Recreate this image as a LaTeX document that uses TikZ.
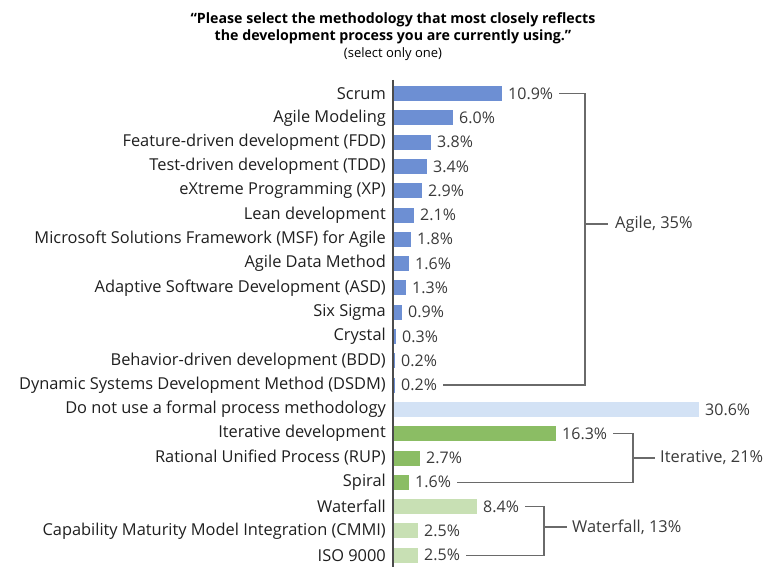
\documentclass[tikz,border=0pt]{standalone}
\usepackage{fontspec}
\setmainfont{Open Sans}
\usetikzlibrary{positioning,calc}
\definecolor{barblue}{HTML}{6D8FD3}
\definecolor{barnone}{HTML}{D3E2F5}
\definecolor{bargreen}{HTML}{8BBD64}
\definecolor{barlight}{HTML}{C8E0B4}
\definecolor{pctgray}{HTML}{3A3A3A}
\definecolor{brkgray}{HTML}{6A6A6A}

\begin{document}
\begin{tikzpicture}[x=1pt,y=-1pt,
      lab/.style={anchor=east,inner sep=0pt,text=black!88,font=\fontsize{16.4}{18}\selectfont},
      pct/.style={anchor=west,inner sep=0pt,text=pctgray,font=\fontsize{16}{18}\selectfont},
      grp/.style={anchor=west,inner sep=0pt,text=pctgray,font=\fontsize{16.4}{18}\selectfont},
      brk/.style={draw=brkgray,line width=1.3pt}]
    \useasboundingbox (0,0) rectangle (765,567);
    \node[align=center,inner sep=0pt,font=\bfseries\fontsize{14.2}{17}\selectfont] (title) at (393,28)
      {“Please select the methodology that most closely reflects\\the development process you are currently using.”};
    \node[inner sep=0pt,font=\fontsize{13}{15}\selectfont,below=4pt of title] (sub) {(select only one)};
    % bars, one row per answer
    \foreach \name/\val/\col [count=\i] in {
        Scrum/10.9/barblue,
        Agile Modeling/6.0/barblue,
        Feature-driven development (FDD)/3.8/barblue,
        Test-driven development (TDD)/3.4/barblue,
        eXtreme Programming (XP)/2.9/barblue,
        Lean development/2.1/barblue,
        Microsoft Solutions Framework (MSF) for Agile/1.8/barblue,
        Agile Data Method/1.6/barblue,
        Adaptive Software Development (ASD)/1.3/barblue,
        Six Sigma/0.9/barblue,
        Crystal/0.3/barblue,
        Behavior-driven development (BDD)/0.2/barblue,
        Dynamic Systems Development Method (DSDM)/0.2/barblue,
        Do not use a formal process methodology/30.6/barnone,
        Iterative development/16.3/bargreen,
        Rational Unified Process (RUP)/2.7/bargreen,
        Spiral/1.6/bargreen,
        Waterfall/8.4/barlight,
        Capability Maturity Model Integration (CMMI)/2.5/barlight,
        ISO 9000/2.5/barlight} {
      \pgfmathsetmacro\yy{69.2+24.3*\i}
      \node[lab] (l\i) at (386,\yy) {\name};
      \fill[\col] (393,\yy-7.5) rectangle ++(\val*10,15);
      \node[pct] (p\i) at (399+\val*10,\yy) {\val\%};
    }
    \draw[line width=1.3pt,draw=black!70] (393,80) -- (393,567);
    % group brackets
    \node[grp] (agile) at (615,224) {Agile, 35\%};
    \node[grp] (iter) at (660,458) {Iterative, 21\%};
    \node[grp] (water) at (572,527) {Waterfall, 13\%};
    \coordinate (agilebar) at (585,0);
    \coordinate (iterbar) at (633,0);
    \coordinate (waterbar) at (544,0);
    \draw[brk] ([xshift=6pt]p1.east) -- (p1.east -| agilebar) -- (p13.east -| agilebar) -- ([xshift=6pt]p13.east);
    \draw[brk] (agile.west -| agilebar) -- ([xshift=-7pt]agile.west);
    \draw[brk] ([xshift=6pt]p15.east) -- (p15.east -| iterbar) -- (p17.east -| iterbar) -- ([xshift=6pt]p17.east);
    \draw[brk] (iter.west -| iterbar) -- ([xshift=-5pt]iter.west);
    \draw[brk] ([xshift=6pt]p18.east) -- (p18.east -| waterbar) -- (p20.east -| waterbar) -- ([xshift=6pt]p20.east);
    \draw[brk] (water.west -| waterbar) -- ([xshift=-5pt]water.west);
  \end{tikzpicture}
\end{document}
